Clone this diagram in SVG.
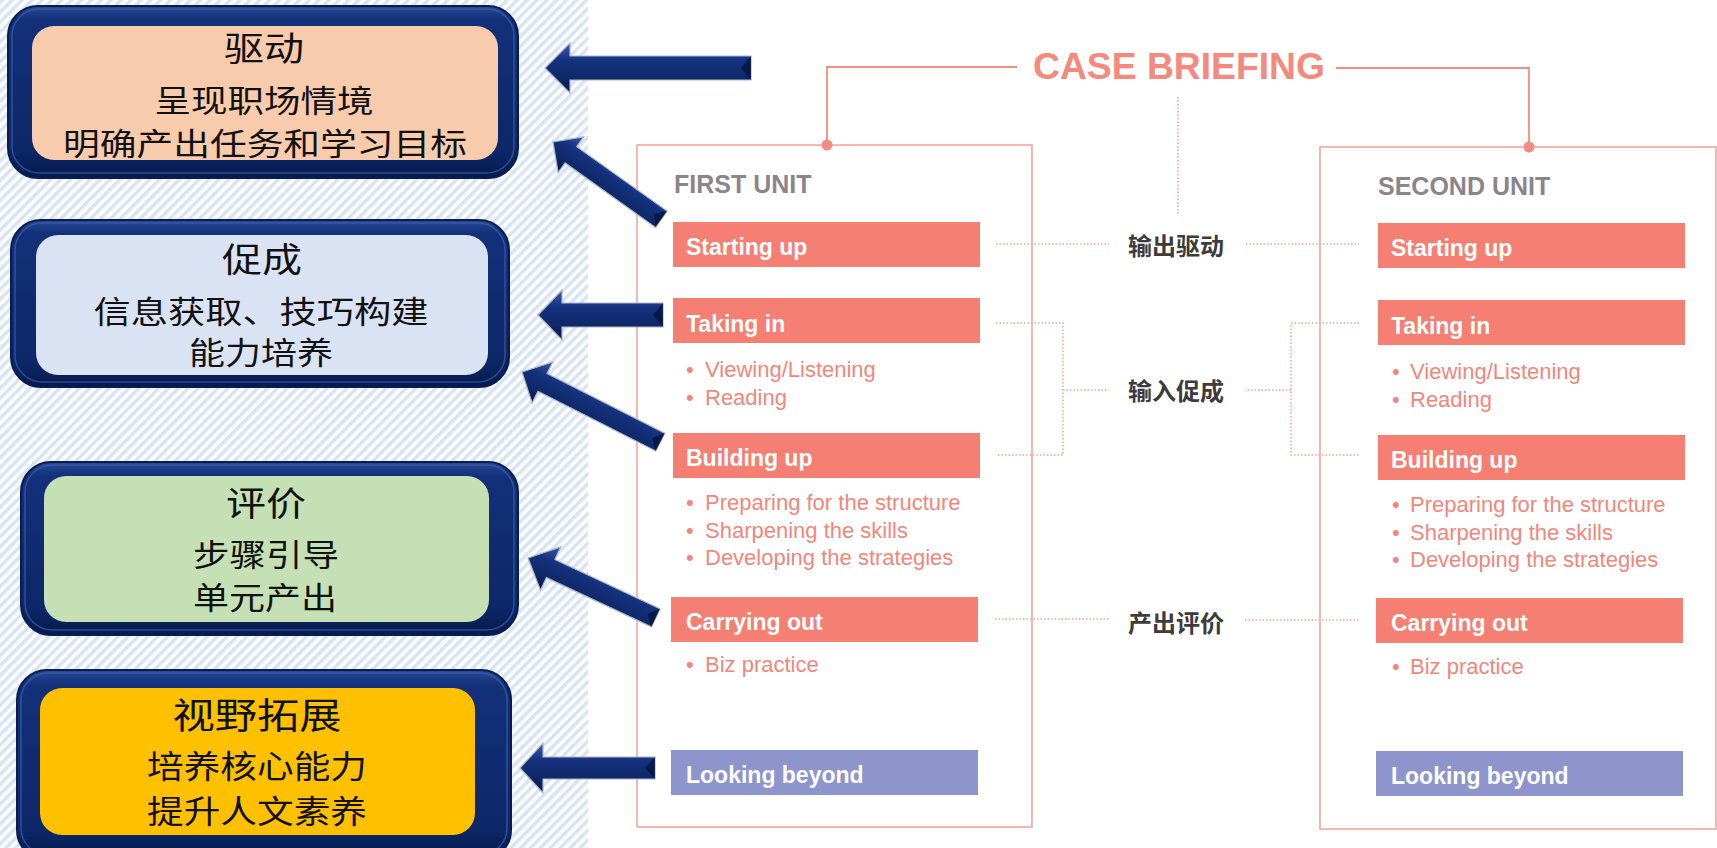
<svg xmlns="http://www.w3.org/2000/svg" width="1717" height="848" viewBox="0 0 1717 848">
<defs>
<pattern id="hatch" width="7" height="7" patternUnits="userSpaceOnUse" patternTransform="rotate(45)">
<rect width="7" height="7" fill="#ffffff"/>
<rect width="3.5" height="7" fill="#d8e4f3"/>
</pattern>
<linearGradient id="navy" x1="0" y1="0" x2="0" y2="1">
<stop offset="0" stop-color="#2a4a95"/>
<stop offset="0.08" stop-color="#13307a"/>
<stop offset="0.85" stop-color="#0d2767"/>
<stop offset="1" stop-color="#061a4c"/>
</linearGradient>
<linearGradient id="arrowGrad" x1="0" y1="0" x2="0" y2="1">
<stop offset="0" stop-color="#3a5ab0"/>
<stop offset="0.35" stop-color="#15327f"/>
<stop offset="0.7" stop-color="#0f2868"/>
<stop offset="1" stop-color="#06184a"/>
</linearGradient>
</defs>
<style>
.outer{fill:url(#navy);stroke:#081d52;stroke-width:2}
.hl{fill:none;stroke:#3e5fae;stroke-width:1.5;opacity:0.7}
.cn{font-family:"Noto Sans CJK SC","Noto Sans",sans-serif;fill:#111111;text-anchor:middle}
.arrow{fill:url(#arrowGrad);stroke:#aab4c8;stroke-width:1.2;stroke-linejoin:miter}
.tail{fill:#061640;opacity:0.85}
.unit{fill:none;stroke:#f2a197;stroke-width:1.5}
.bar{fill:#f57f72}
.bar2{fill:#8e95cc}
.bartxt{font-family:"Liberation Sans",Arial,sans-serif;font-weight:bold;font-size:23px;fill:#ffffff}
.bul{font-family:"Liberation Sans",Arial,sans-serif;font-size:22px;fill:#f1877c}
.unitlbl{font-family:"Liberation Sans",Arial,sans-serif;font-weight:bold;font-size:25px;fill:#8b8589}
.mid{font-family:"Noto Sans CJK SC","Noto Sans",sans-serif;font-weight:bold;font-size:24px;fill:#3d3b3c;text-anchor:middle}
.dot{fill:none;stroke:#f0a39b;stroke-width:1.5;stroke-dasharray:1.5 2}
.solid{fill:none;stroke:#f28d81;stroke-width:1.8}
</style>

<rect x="0" y="0" width="1717" height="848" fill="#ffffff"/>
<rect x="0" y="0" width="588" height="848" fill="url(#hatch)"/>

<!-- Left nodes -->
<g id="node-qudong">
<rect class="outer" x="8" y="6" width="510" height="172" rx="30"/>
<rect class="hl" x="12" y="9" width="502" height="164" rx="27"/>
<rect x="32" y="26" width="466" height="134" rx="22" fill="#f8cbad"/>
<text class="cn" x="264" y="61" font-size="34" textLength="80" lengthAdjust="spacingAndGlyphs">驱动</text>
<text class="cn" x="264" y="112" font-size="31" textLength="219" lengthAdjust="spacingAndGlyphs">呈现职场情境</text>
<text class="cn" x="265" y="155" font-size="31" textLength="404" lengthAdjust="spacingAndGlyphs">明确产出任务和学习目标</text>
</g>

<g id="node-cucheng">
<rect class="outer" x="11" y="220" width="498" height="167" rx="30"/>
<rect class="hl" x="15" y="223" width="490" height="159" rx="27"/>
<rect x="36" y="235" width="452" height="140" rx="22" fill="#dae3f3"/>
<text class="cn" x="262" y="272" font-size="34" textLength="80" lengthAdjust="spacingAndGlyphs">促成</text>
<text class="cn" x="261" y="323" font-size="31" textLength="335" lengthAdjust="spacingAndGlyphs">信息获取、技巧构建</text>
<text class="cn" x="261" y="364" font-size="31" textLength="144" lengthAdjust="spacingAndGlyphs">能力培养</text>
</g>

<g id="node-pingjia">
<rect class="outer" x="21" y="462" width="497" height="173" rx="30"/>
<rect class="hl" x="25" y="465" width="489" height="165" rx="27"/>
<rect x="44" y="476" width="445" height="146" rx="22" fill="#c5e0b4"/>
<text class="cn" x="266" y="516" font-size="34" textLength="80" lengthAdjust="spacingAndGlyphs">评价</text>
<text class="cn" x="266" y="566" font-size="31" textLength="146" lengthAdjust="spacingAndGlyphs">步骤引导</text>
<text class="cn" x="265" y="609" font-size="31" textLength="144" lengthAdjust="spacingAndGlyphs">单元产出</text>
</g>

<g id="node-shiye">
<rect class="outer" x="17" y="670" width="494" height="190" rx="30"/>
<rect class="hl" x="21" y="673" width="486" height="182" rx="27"/>
<rect x="40" y="688" width="435" height="147" rx="22" fill="#ffc000"/>
<text class="cn" x="257" y="729" font-size="36" textLength="169" lengthAdjust="spacingAndGlyphs">视野拓展</text>
<text class="cn" x="257" y="778" font-size="32" textLength="220" lengthAdjust="spacingAndGlyphs">培养核心能力</text>
<text class="cn" x="257" y="823" font-size="32" textLength="220" lengthAdjust="spacingAndGlyphs">提升人文素养</text>
</g>

<!-- Right: case briefing -->
<g id="title">
<text x="1033" y="79" font-family="'Liberation Sans',Arial,sans-serif" font-weight="bold" font-size="37" fill="#f48a7e" textLength="292" lengthAdjust="spacingAndGlyphs">CASE BRIEFING</text>
</g>

<g id="first-unit">
<rect class="unit" x="637" y="145" width="395" height="682"/>
<text class="unitlbl" x="674" y="193">FIRST UNIT</text>
<rect class="bar" x="673" y="222" width="307" height="45"/>
<text class="bartxt" x="686" y="255">Starting up</text>
<rect class="bar" x="673" y="298" width="307" height="45"/>
<text class="bartxt" x="686" y="332">Taking in</text>
<text class="bul" x="686" y="377">•</text><text class="bul" x="705" y="377">Viewing/Listening</text>
<text class="bul" x="686" y="405">•</text><text class="bul" x="705" y="405">Reading</text>
<rect class="bar" x="673" y="433" width="307" height="45"/>
<text class="bartxt" x="686" y="466">Building up</text>
<text class="bul" x="686" y="510">•</text><text class="bul" x="705" y="510">Preparing for the structure</text>
<text class="bul" x="686" y="538">•</text><text class="bul" x="705" y="538">Sharpening the skills</text>
<text class="bul" x="686" y="565">•</text><text class="bul" x="705" y="565">Developing the strategies</text>
<rect class="bar" x="671" y="597" width="307" height="45"/>
<text class="bartxt" x="686" y="630">Carrying out</text>
<text class="bul" x="686" y="672">•</text><text class="bul" x="705" y="672">Biz practice</text>
<rect class="bar2" x="671" y="750" width="307" height="45"/>
<text class="bartxt" x="686" y="783">Looking beyond</text>
</g>

<g id="second-unit">
<rect class="unit" x="1320" y="147" width="396" height="682"/>
<text class="unitlbl" x="1378" y="195">SECOND UNIT</text>
<rect class="bar" x="1378" y="223" width="307" height="45"/>
<text class="bartxt" x="1391" y="256">Starting up</text>
<rect class="bar" x="1378" y="300" width="307" height="45"/>
<text class="bartxt" x="1391" y="334">Taking in</text>
<text class="bul" x="1392" y="379">•</text><text class="bul" x="1410" y="379">Viewing/Listening</text>
<text class="bul" x="1392" y="407">•</text><text class="bul" x="1410" y="407">Reading</text>
<rect class="bar" x="1378" y="435" width="307" height="45"/>
<text class="bartxt" x="1391" y="468">Building up</text>
<text class="bul" x="1392" y="512">•</text><text class="bul" x="1410" y="512">Preparing for the structure</text>
<text class="bul" x="1392" y="540">•</text><text class="bul" x="1410" y="540">Sharpening the skills</text>
<text class="bul" x="1392" y="567">•</text><text class="bul" x="1410" y="567">Developing the strategies</text>
<rect class="bar" x="1376" y="598" width="307" height="45"/>
<text class="bartxt" x="1391" y="631">Carrying out</text>
<text class="bul" x="1392" y="674">•</text><text class="bul" x="1410" y="674">Biz practice</text>
<rect class="bar2" x="1376" y="751" width="307" height="45"/>
<text class="bartxt" x="1391" y="784">Looking beyond</text>
</g>

<g id="label-shuchu">
<text class="mid" x="1176" y="255">输出驱动</text>
</g>
<g id="label-shuru">
<text class="mid" x="1176" y="400">输入促成</text>
</g>
<g id="label-chanchu">
<text class="mid" x="1176" y="632">产出评价</text>
</g>

<!-- Connectors -->
<g id="connectors">
<path class="solid" d="M1017 67 H827 V145"/>
<path class="solid" d="M1336 68 H1529 V147"/>
<circle cx="827" cy="145" r="5.5" fill="#f28d81"/>
<circle cx="1529" cy="147" r="5.5" fill="#f28d81"/>
<path class="dot" d="M1178 97 V215"/>
<path class="dot" d="M996 244 H1109"/>
<path class="dot" d="M1246 244 H1359"/>
<path class="dot" d="M996 323 H1063 V455 H996 M1063 390 H1109"/>
<path class="dot" d="M1359 323 H1291 V455 H1359 M1291 390 H1245"/>
<path class="dot" d="M995 619 H1109"/>
<path class="dot" d="M1245 620 H1359"/>

<g transform="translate(545,68)">
<polygon class="arrow" points="0,0 25,-25 25,-12 206,-12 206,12 25,12 25,25"/>
<polygon class="tail" points="196,0 206,-12 206,12"/>
</g>
<g transform="translate(553,142) rotate(35.5)">
<polygon class="arrow" points="0,0 22,-22 22,-10 133,-10 133,10 22,10 22,22"/>
<polygon class="tail" points="124,0 133,-10 133,10"/>
</g>
<g transform="translate(538,315)">
<polygon class="arrow" points="0,0 24,-25 24,-12 125,-12 125,12 24,12 24,25"/>
<polygon class="tail" points="115,0 125,-12 125,12"/>
</g>
<g transform="translate(522,372) rotate(26.9)">
<polygon class="arrow" points="0,0 23,-23 23,-10 155,-10 155,10 23,10 23,23"/>
<polygon class="tail" points="146,0 155,-10 155,10"/>
</g>
<g transform="translate(528,558) rotate(25.1)">
<polygon class="arrow" points="0,0 25,-24 25,-10 141,-10 141,10 25,10 25,24"/>
<polygon class="tail" points="132,0 141,-10 141,10"/>
</g>
<g transform="translate(520,768)">
<polygon class="arrow" points="0,0 23,-25 23,-11 135,-11 135,11 23,11 23,25"/>
<polygon class="tail" points="125,0 135,-11 135,11"/>
</g>
</g>
</svg>
